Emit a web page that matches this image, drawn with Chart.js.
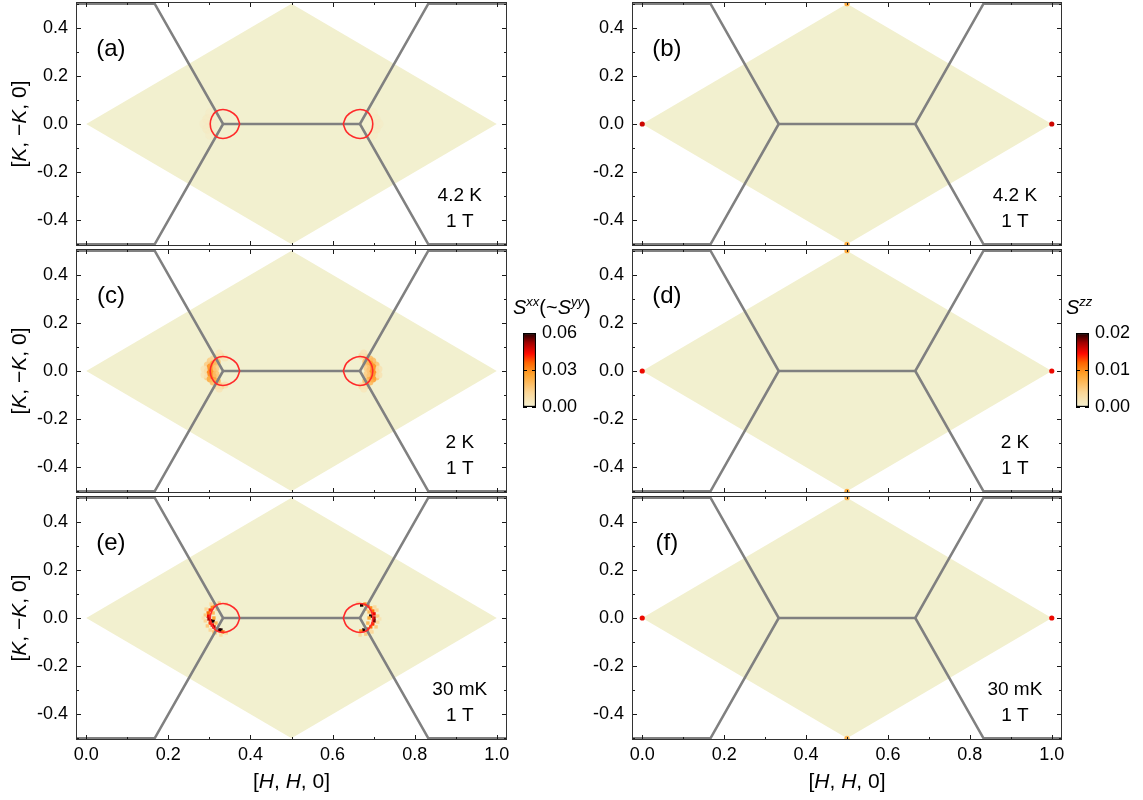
<!DOCTYPE html>
<html>
<head>
<meta charset="utf-8">
<script src="https://cdn.jsdelivr.net/npm/chart.js@4.4.1/dist/chart.umd.min.js"></script>
<style>
  html, body { margin: 0; padding: 0; background: #fff; }
  #wrap { position: relative; width: 1143px; height: 800px; overflow: hidden; background: #fff; }
  #wrap canvas { position: absolute; }
</style>
</head>
<body>
<div id="wrap"></div>
<script>
// ---- Reciprocal-space geometry, in [H,H,0] / [K,-K,0] units ----
const diamondH = [0, 0.5, 1, 0.5, 0];
const diamondK = [0, 0.5, 0, -0.5, 0];

// Zone boundary polylines
const zoneLeftH  = [-0.05, 1/6, 1/3, 1/6, -0.05];
const zoneLeftK  = [0.5, 0.5, 0, -0.5, -0.5];
const zoneRightH = [1.05, 5/6, 2/3, 5/6, 1.05];
const zoneRightK = [0.5, 0.5, 0, -0.5, -0.5];
const zoneMidH   = [1/3, 2/3];
const zoneMidK   = [0, 0];

// Pocket contours around the two K points
const pocketLeftH  = [0.374, 0.366, 0.350, 0.333, 0.317, 0.306, 0.302, 0.306, 0.317, 0.333, 0.350, 0.366, 0.374];
const pocketLeftK  = [0, -0.032, -0.053, -0.060, -0.053, -0.030, 0, 0.030, 0.053, 0.060, 0.053, 0.032, 0];
const pocketRightH = [0.626, 0.634, 0.650, 0.667, 0.683, 0.694, 0.698, 0.694, 0.683, 0.667, 0.650, 0.634, 0.626];
const pocketRightK = [0, -0.032, -0.053, -0.060, -0.053, -0.030, 0, 0.030, 0.053, 0.060, 0.053, 0.032, 0];

// Axis ticks
const xTickVals   = [0, 0.2, 0.4, 0.6, 0.8, 1.0];
const xTickLabels = ['0.0', '0.2', '0.4', '0.6', '0.8', '1.0'];
const xMinorVals  = [0.1, 0.3, 0.5, 0.7, 0.9];
const yTickVals   = [-0.4, -0.2, 0, 0.2, 0.4];
const yTickLabels = ['-0.4', '-0.2', '0.0', '0.2', '0.4'];
const yMinorVals  = [-0.5, -0.3, -0.1, 0.1, 0.3, 0.5];

// Colour-bar ticks
const cbXXTicks  = [0, 0.03, 0.06];
const cbXXLabels = ['0.00', '0.03', '0.06'];
const cbZZTicks  = [0, 0.01, 0.02];
const cbZZLabels = ['0.00', '0.01', '0.02'];

// ---- Intensity maps: [H, K, intensity] ----
// S^xx at 4.2 K, 1 T (weak haze near K)
const sxxA = [
  [0.295, 0.020, 0.004], [0.295, -0.020, 0.004], [0.302, 0.045, 0.003], [0.302, -0.045, 0.003],
  [0.288, 0.000, 0.003], [0.310, 0.000, 0.003],
  [0.705, 0.020, 0.004], [0.705, -0.020, 0.004], [0.698, 0.045, 0.003], [0.698, -0.045, 0.003],
  [0.712, 0.000, 0.003]
];
// S^xx at 2 K, 1 T
const sxxC = [
  [0.295, 0.025, 0.015], [0.295, 0.000, 0.020], [0.295, -0.025, 0.015], [0.302, 0.042, 0.015],
  [0.302, 0.017, 0.030], [0.302, -0.008, 0.032], [0.302, -0.033, 0.025], [0.309, 0.050, 0.012],
  [0.309, 0.029, 0.025], [0.309, 0.004, 0.028], [0.309, -0.021, 0.030], [0.309, -0.046, 0.020],
  [0.319, 0.058, 0.012], [0.319, 0.037, 0.020], [0.319, -0.042, 0.025], [0.319, -0.062, 0.012],
  [0.328, 0.062, 0.010], [0.328, -0.062, 0.015], [0.316, 0.012, 0.015], [0.316, -0.012, 0.018],
  [0.287, 0.008, 0.006], [0.287, -0.017, 0.006], [0.324, -0.075, 0.006], [0.324, 0.075, 0.005],
  [0.338, -0.058, 0.008], [0.338, 0.054, 0.006],
  [0.706, 0.025, 0.018], [0.706, 0.000, 0.022], [0.706, -0.025, 0.018], [0.698, 0.042, 0.020],
  [0.698, 0.017, 0.030], [0.698, -0.008, 0.030], [0.698, -0.033, 0.028], [0.691, 0.050, 0.020],
  [0.691, 0.029, 0.028], [0.691, 0.004, 0.030], [0.691, -0.021, 0.028], [0.691, -0.046, 0.022],
  [0.681, 0.058, 0.015], [0.681, 0.037, 0.020], [0.681, -0.042, 0.020], [0.681, -0.062, 0.012],
  [0.671, 0.062, 0.010], [0.671, -0.062, 0.010], [0.684, 0.012, 0.015], [0.684, -0.012, 0.015],
  [0.713, 0.008, 0.007], [0.713, -0.017, 0.007], [0.676, -0.075, 0.005], [0.676, 0.075, 0.006]
];
// S^xx at 30 mK, 1 T
const sxxE = [
  [0.324, 0.062, 0.015], [0.314, 0.054, 0.020], [0.307, 0.046, 0.030], [0.302, 0.033, 0.040],
  [0.297, 0.021, 0.035], [0.297, 0.008, 0.045], [0.299, -0.004, 0.050], [0.304, -0.012, 0.055],
  [0.309, -0.012, 0.068], [0.302, -0.021, 0.040], [0.307, -0.029, 0.045], [0.311, -0.037, 0.050],
  [0.319, -0.046, 0.040], [0.324, -0.050, 0.055], [0.328, -0.050, 0.070], [0.333, -0.058, 0.035],
  [0.292, 0.037, 0.012], [0.290, 0.012, 0.015], [0.290, -0.012, 0.012], [0.295, -0.033, 0.015],
  [0.302, -0.050, 0.012], [0.314, -0.062, 0.015], [0.328, -0.071, 0.010], [0.309, 0.021, 0.020],
  [0.311, 0.000, 0.025], [0.316, -0.021, 0.020], [0.319, 0.037, 0.015], [0.341, 0.058, 0.010],
  [0.341, -0.062, 0.012], [0.285, 0.000, 0.006], [0.304, 0.058, 0.010], [0.311, -0.058, 0.018],
  [0.671, 0.054, 0.070], [0.679, 0.058, 0.030], [0.686, 0.050, 0.040], [0.693, 0.042, 0.030],
  [0.698, 0.029, 0.035], [0.701, 0.017, 0.045], [0.693, 0.008, 0.065], [0.701, 0.000, 0.050],
  [0.701, -0.012, 0.055], [0.698, -0.025, 0.040], [0.693, -0.037, 0.035], [0.686, -0.046, 0.040],
  [0.676, -0.050, 0.065], [0.669, -0.054, 0.030], [0.708, 0.033, 0.012], [0.710, 0.008, 0.015],
  [0.710, -0.017, 0.012], [0.706, -0.037, 0.015], [0.696, -0.058, 0.012], [0.681, -0.067, 0.015],
  [0.667, -0.071, 0.010], [0.689, 0.025, 0.020], [0.689, 0.000, 0.025], [0.686, -0.021, 0.020],
  [0.681, 0.037, 0.018], [0.662, 0.062, 0.010], [0.715, -0.004, 0.006], [0.693, -0.054, 0.010],
  [0.703, 0.046, 0.010]
];
// S^zz peaks at the zone corners
const szzB = [[0, 0, 0.016], [1, 0, 0.016], [0.5, 0.5, 0.008], [0.5, -0.5, 0.008]];
const szzD = [[0, 0, 0.015], [1, 0, 0.015], [0.5, 0.5, 0.008], [0.5, -0.5, 0.008]];
const szzF = [[0, 0, 0.015], [1, 0, 0.015], [0.5, 0.5, 0.007], [0.5, -0.5, 0.007]];

// ---- Colour map (cream -> orange -> red -> black) ----
const cmapStops = [
  [0.00, [244, 241, 210]],
  [0.20, [251, 214, 150]],
  [0.45, [255, 160, 40]],
  [0.60, [255, 100, 0]],
  [0.72, [255, 10, 0]],
  [0.87, [160, 0, 0]],
  [1.00, [25, 0, 0]]
];
function cmap(t, alpha) {
  t = Math.max(0, Math.min(1, t));
  let i = 1;
  while (i < cmapStops.length - 1 && cmapStops[i][0] < t) i++;
  const [t0, c0] = cmapStops[i - 1];
  const [t1, c1] = cmapStops[i];
  const f = (t - t0) / (t1 - t0);
  const c = c0.map((v, k) => Math.round(v + (c1[k] - v) * f));
  return `rgba(${c[0]},${c[1]},${c[2]},${alpha === undefined ? 1 : alpha})`;
}

const FONT = '"Liberation Sans", Arial, Helvetica, sans-serif';
const DIAMOND_FILL = '#f2f0cf';
const ZONE_GRAY = '#808080';

// Draws a run of text pieces with mixed italic / superscript styling
function drawRich(ctx, parts, x, y, align, baseline) {
  ctx.textAlign = 'left';
  ctx.textBaseline = baseline || 'alphabetic';
  let w = 0;
  parts.forEach(p => { ctx.font = `${p.i ? 'italic ' : ''}${p.s}px ${FONT}`; w += ctx.measureText(p.t).width; });
  let cx = align === 'center' ? x - w / 2 : x;
  parts.forEach(p => {
    ctx.font = `${p.i ? 'italic ' : ''}${p.s}px ${FONT}`;
    ctx.fillText(p.t, cx, y - (p.up || 0));
    cx += ctx.measureText(p.t).width;
  });
}

const yTitleParts = [
  { t: '[', s: 21 }, { t: 'K', s: 21, i: 1 }, { t: ', \u2212', s: 21 }, { t: 'K', s: 21, i: 1 }, { t: ', 0]', s: 21 }
];
const xTitleParts = [
  { t: '[', s: 21 }, { t: 'H', s: 21, i: 1 }, { t: ', ', s: 21 }, { t: 'H', s: 21, i: 1 }, { t: ', 0]', s: 21 }
];

// Frame, inward ticks and in-panel annotations
const panelDeco = {
  id: 'panelDeco',
  afterDatasetsDraw(chart, args, o) {
    const { ctx, chartArea: a } = chart;
    const x = chart.scales.x, y = chart.scales.y;
    ctx.save();
    ctx.strokeStyle = '#1a1a1a';
    ctx.lineWidth = 1;
    ctx.beginPath();
    const xt = (v, L) => {
      const px = Math.round(x.getPixelForValue(v)) + 0.5;
      ctx.moveTo(px, a.bottom); ctx.lineTo(px, a.bottom - L);
      ctx.moveTo(px, a.top); ctx.lineTo(px, a.top + L);
    };
    const yt = (v, L) => {
      const py = Math.round(y.getPixelForValue(v)) + 0.5;
      ctx.moveTo(a.left, py); ctx.lineTo(a.left + L, py);
      ctx.moveTo(a.right, py); ctx.lineTo(a.right - L, py);
    };
    xTickVals.forEach(v => xt(v, 5));
    xMinorVals.forEach(v => xt(v, 3));
    yTickVals.forEach(v => yt(v, 5));
    yMinorVals.forEach(v => yt(v, 3));
    ctx.stroke();
    ctx.strokeStyle = '#333';
    ctx.strokeRect(a.left + 0.5, a.top + 0.5, a.right - a.left - 1, a.bottom - a.top - 1);

    ctx.fillStyle = '#000';
    ctx.textAlign = 'center';
    ctx.textBaseline = 'middle';
    ctx.font = `24px ${FONT}`;
    ctx.fillText(o.letter, x.getPixelForValue(0.06), y.getPixelForValue(0.31));
    ctx.font = `19px ${FONT}`;
    ctx.fillText(o.temp, x.getPixelForValue(0.91), y.getPixelForValue(-0.30));
    ctx.fillText(o.field, x.getPixelForValue(0.91), y.getPixelForValue(-0.408));

    if (o.yTitle) {
      ctx.save();
      ctx.translate(20, y.getPixelForValue(0));
      ctx.rotate(-Math.PI / 2);
      drawRich(ctx, yTitleParts, 0, 0, 'center', 'middle');
      ctx.restore();
    }
    if (o.xTitle) {
      drawRich(ctx, xTitleParts, x.getPixelForValue(0.5), a.bottom + 42, 'center', 'middle');
    }
    ctx.restore();
  }
};

const toXY = (hs, ks) => hs.map((h, i) => ({ x: h, y: ks[i] }));
const toSpots = arr => arr.map(([h, k, v]) => ({ x: h, y: k, v }));

const columns = [
  { left: 0,   width: 515, axisW: 76 },
  { left: 560, width: 510, axisW: 72 }
];
const rowTops = [2, 249, 496];
const AREA_H = 244;

const panels = [
  { letter: '(a)', temp: '4.2 K', field: '1 T', col: 0, row: 0, vmax: 0.06, spots: sxxA, style: 'circle', r: 5, alpha: 0.5, pockets: true },
  { letter: '(b)', temp: '4.2 K', field: '1 T', col: 1, row: 0, vmax: 0.02, spots: szzB, style: 'circle', r: 2.6, alpha: 1, pockets: false },
  { letter: '(c)', temp: '2 K',   field: '1 T', col: 0, row: 1, vmax: 0.06, spots: sxxC, style: 'circle', r: 3.5, alpha: 0.8, pockets: true },
  { letter: '(d)', temp: '2 K',   field: '1 T', col: 1, row: 1, vmax: 0.02, spots: szzD, style: 'circle', r: 2.6, alpha: 1, pockets: false },
  { letter: '(e)', temp: '30 mK', field: '1 T', col: 0, row: 2, vmax: 0.06, spots: sxxE, style: 'rect', r: 2.4, alpha: 1, pockets: true },
  { letter: '(f)', temp: '30 mK', field: '1 T', col: 1, row: 2, vmax: 0.02, spots: szzF, style: 'circle', r: 2.6, alpha: 1, pockets: false }
];

const wrap = document.getElementById('wrap');

function makePanel(p) {
  const c = columns[p.col];
  const bottomRow = p.row === 2;
  const top = rowTops[p.row] - 2;
  const height = bottomRow ? 800 - top : AREA_H + 4;
  const cv = document.createElement('canvas');
  cv.width = c.width; cv.height = height;
  cv.style.left = c.left + 'px'; cv.style.top = top + 'px';
  cv.style.width = c.width + 'px'; cv.style.height = height + 'px';
  wrap.appendChild(cv);

  const lineDs = (hs, ks, color, width, order, tension) => ({
    data: toXY(hs, ks), borderColor: color, borderWidth: width, pointRadius: 0,
    fill: false, tension: tension || 0, order, borderJoinStyle: 'miter', borderCapStyle: 'butt'
  });

  const datasets = [
    { data: toXY(diamondH, diamondK), borderWidth: 0, borderColor: 'rgba(0,0,0,0)', backgroundColor: DIAMOND_FILL,
      fill: 'shape', pointRadius: 0, order: 6 },
    { data: toSpots(p.spots), showLine: false, pointStyle: p.style, pointRadius: p.r, pointBorderWidth: 0,
      pointBackgroundColor: ctx => cmap(ctx.raw.v / p.vmax, p.alpha), order: p.pockets ? 5 : 0 },
    lineDs(zoneLeftH, zoneLeftK, ZONE_GRAY, 2.6, 3),
    lineDs(zoneRightH, zoneRightK, ZONE_GRAY, 2.6, 3),
    lineDs(zoneMidH, zoneMidK, ZONE_GRAY, 2.6, 3)
  ];
  if (p.pockets) {
    datasets.push(lineDs(pocketLeftH, pocketLeftK, '#ff2a2a', 1.6, 1, 0.4));
    datasets.push(lineDs(pocketRightH, pocketRightK, '#ff2a2a', 1.6, 1, 0.4));
  }

  new Chart(cv, {
    type: 'line',
    data: { datasets },
    plugins: [panelDeco],
    options: {
      responsive: false, animation: false, events: [], devicePixelRatio: 1,
      layout: { autoPadding: false, padding: { top: 2, bottom: bottomRow ? 0 : 2, left: 0, right: 8 } },
      plugins: {
        legend: { display: false }, tooltip: { enabled: false },
        panelDeco: { letter: p.letter, temp: p.temp, field: p.field, yTitle: p.col === 0, xTitle: bottomRow }
      },
      scales: {
        x: {
          type: 'linear', min: -0.025, max: 1.025,
          grid: { display: false, drawTicks: false }, border: { display: false },
          afterBuildTicks: s => { s.ticks = xTickVals.map(v => ({ value: v })); },
          afterFit: s => { s.height = bottomRow ? 60 : 0; s.paddingLeft = 0; s.paddingRight = 0; },
          ticks: { display: bottomRow, padding: 4, color: '#000', font: { family: FONT, size: 18 },
                   maxRotation: 0, autoSkip: false, callback: (v, i) => xTickLabels[i] }
        },
        y: {
          type: 'linear', min: -0.507, max: 0.507, position: 'left',
          grid: { display: false, drawTicks: false }, border: { display: false },
          afterBuildTicks: s => { s.ticks = yTickVals.map(v => ({ value: v })); },
          afterFit: s => { s.width = c.axisW; s.paddingTop = 0; s.paddingBottom = 0; },
          ticks: { padding: 8, color: '#000', font: { family: FONT, size: 18 }, callback: (v, i) => yTickLabels[i] }
        }
      }
    }
  });
}
panels.forEach(makePanel);

// ---- Colour bars ----
const cbDeco = {
  id: 'cbDeco',
  afterDatasetsDraw(chart, args, o) {
    const { ctx, chartArea: a } = chart;
    const y = chart.scales.y;
    ctx.save();
    ctx.strokeStyle = '#000';
    ctx.lineWidth = 1;
    ctx.beginPath();
    o.ticks.forEach(v => {
      const py = Math.round(y.getPixelForValue(v)) + 0.5;
      ctx.moveTo(a.left, py); ctx.lineTo(a.left + 4, py);
      ctx.moveTo(a.right, py); ctx.lineTo(a.right - 4, py);
    });
    ctx.stroke();
    ctx.fillStyle = '#000';
    drawRich(ctx, o.title, o.titleX, o.titleY, 'left', 'alphabetic');
    ctx.restore();
  }
};

function makeColorbar(cfg) {
  const cv = document.createElement('canvas');
  cv.width = cfg.width; cv.height = 140;
  cv.style.left = cfg.left + 'px'; cv.style.top = '280px';
  cv.style.width = cfg.width + 'px'; cv.style.height = '140px';
  wrap.appendChild(cv);
  new Chart(cv, {
    type: 'bar',
    data: {
      labels: [''],
      datasets: [{
        data: [cfg.vmax], borderColor: '#000', borderWidth: 1.5, borderSkipped: false,
        barPercentage: 1, categoryPercentage: 1,
        backgroundColor: c => {
          const area = c.chart.chartArea;
          if (!area) return '#fff';
          const g = c.chart.ctx.createLinearGradient(0, area.bottom, 0, area.top);
          cmapStops.forEach(([t, col]) => g.addColorStop(t, `rgb(${col[0]},${col[1]},${col[2]})`));
          return g;
        }
      }]
    },
    plugins: [cbDeco],
    options: {
      responsive: false, animation: false, events: [], devicePixelRatio: 1,
      layout: { autoPadding: false, padding: { left: 23, top: 53, bottom: 13, right: 0 } },
      plugins: {
        legend: { display: false }, tooltip: { enabled: false },
        cbDeco: { ticks: cfg.ticks, title: cfg.title, titleX: 13, titleY: 34 }
      },
      scales: {
        x: { display: false },
        y: {
          position: 'right', min: 0, max: cfg.vmax,
          grid: { display: false, drawTicks: false }, border: { display: false },
          afterBuildTicks: s => { s.ticks = cfg.ticks.map(v => ({ value: v })); },
          afterFit: s => { s.width = cfg.width - 36; s.paddingTop = 0; s.paddingBottom = 0; },
          ticks: { padding: 6, color: '#000', font: { family: FONT, size: 18 }, callback: (v, i) => cfg.labels[i] }
        }
      }
    }
  });
}

makeColorbar({
  left: 500, width: 100, vmax: 0.06, ticks: cbXXTicks, labels: cbXXLabels,
  title: [
    { t: 'S', s: 20, i: 1 }, { t: 'xx', s: 13, i: 1, up: 8 }, { t: '(~', s: 20 },
    { t: 'S', s: 20, i: 1 }, { t: 'yy', s: 13, i: 1, up: 8 }, { t: ')', s: 20 }
  ]
});
makeColorbar({
  left: 1053, width: 90, vmax: 0.02, ticks: cbZZTicks, labels: cbZZLabels,
  title: [ { t: 'S', s: 20, i: 1 }, { t: 'zz', s: 13, i: 1, up: 8 } ]
});
</script>
</body>
</html>
